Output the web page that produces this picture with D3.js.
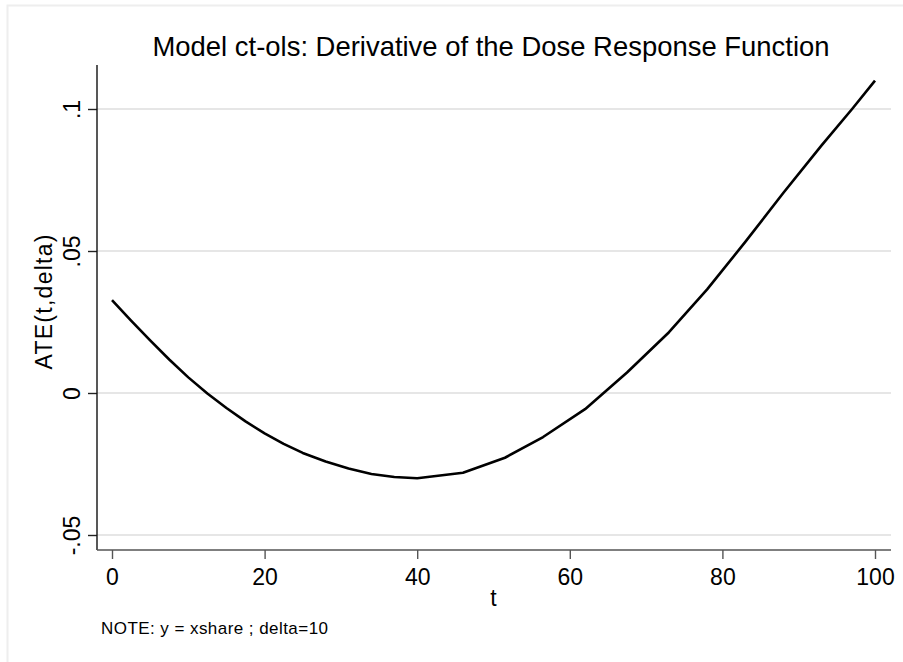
<!DOCTYPE html>
<html>
<head>
<meta charset="utf-8">
<script src="https://cdn.jsdelivr.net/npm/d3@7"></script>
<style>
  body { margin: 0; background: #fff; }
  svg { display: block; font-family: "Liberation Sans", Arial, sans-serif; }
</style>
</head>
<body>
<div id="chart"></div>
<script>
// t values and ATE(t,delta)
const tValues = [0, 2.5, 5, 7.5, 10, 12.5, 15, 17.5, 20, 22.5, 25, 28, 31, 34, 37, 40,
  46, 51.5, 56.5, 62, 67.5, 73, 78, 83, 88, 93, 97, 100];
const ateValues = [0.0327, 0.0255, 0.0185, 0.0118, 0.0055, -0.0002, -0.0053, -0.0100,
  -0.0142, -0.0179, -0.0211, -0.0241, -0.0266, -0.0285, -0.0296, -0.0300,
  -0.0281, -0.0228, -0.0155, -0.0057, 0.0072, 0.0214, 0.0365, 0.0532, 0.0705,
  0.0872, 0.1000, 0.1100];
const xTicks = [0, 20, 40, 60, 80, 100];
const yTicks = [-0.05, 0, 0.05, 0.1];
const yTickLabels = ["-.05", "0", ".05", ".1"];

const width = 903, height = 662;
const plot = { left: 97, right: 891, top: 65, bottom: 550 };

const svg = d3.select("#chart").append("svg")
  .attr("width", width)
  .attr("height", height);

// outer graph region border
svg.append("rect")
  .attr("x", 7.5).attr("y", 5.5)
  .attr("width", width + 10).attr("height", height + 10)
  .attr("fill", "none")
  .attr("stroke", "#eeeeee")
  .attr("stroke-width", 2);

const x = d3.scaleLinear().domain([0, 100]).range([112, 875]);
const y = d3.scaleLinear().domain([-0.05, 0.1]).range([535, 109]);

// gridlines
svg.append("g")
  .selectAll("line")
  .data(yTicks)
  .enter().append("line")
  .attr("x1", plot.left)
  .attr("x2", plot.right)
  .attr("y1", d => y(d))
  .attr("y2", d => y(d))
  .attr("stroke", "#e6e6e6")
  .attr("stroke-width", 2);

// y axis
const yAxis = svg.append("g")
  .attr("transform", "translate(" + plot.left + ",0)")
  .call(d3.axisLeft(y).tickValues(yTicks).tickSize(9).tickPadding(8)
    .tickFormat((d, i) => yTickLabels[i]));
yAxis.select(".domain").remove();
yAxis.append("line")
  .attr("x1", 0).attr("x2", 0)
  .attr("y1", plot.top).attr("y2", plot.bottom)
  .attr("stroke", "#111").attr("stroke-width", 1.4);
yAxis.selectAll(".tick line").attr("stroke", "#222").attr("stroke-width", 1.4);
yAxis.selectAll(".tick text")
  .attr("x", null).attr("dy", null)
  .attr("transform", "translate(-17,0) rotate(-90)")
  .attr("text-anchor", "middle")
  .style("font-size", "23px")
  .style("fill", "#000");

// x axis
const xAxis = svg.append("g")
  .attr("transform", "translate(0," + plot.bottom + ")")
  .call(d3.axisBottom(x).tickValues(xTicks).tickSize(9).tickPadding(10)
    .tickFormat(d3.format("d")));
xAxis.select(".domain").remove();
xAxis.append("line")
  .attr("x1", plot.left).attr("x2", plot.right)
  .attr("y1", 0).attr("y2", 0)
  .attr("stroke", "#555").attr("stroke-width", 1.6);
xAxis.selectAll(".tick line").attr("stroke", "#555").attr("stroke-width", 1.4);
xAxis.selectAll(".tick text")
  .style("font-size", "23px")
  .style("fill", "#000");

// curve
const line = d3.line()
  .x((d, i) => x(tValues[i]))
  .y(d => y(d));

svg.append("path")
  .datum(ateValues)
  .attr("d", line)
  .attr("fill", "none")
  .attr("stroke", "#000")
  .attr("stroke-width", 2.6)
  .attr("stroke-linejoin", "round");

// titles
svg.append("text")
  .attr("x", 491)
  .attr("y", 56)
  .attr("text-anchor", "middle")
  .attr("textLength", 677)
  .attr("lengthAdjust", "spacingAndGlyphs")
  .style("font-size", "28px")
  .text("Model ct-ols: Derivative of the Dose Response Function");

svg.append("text")
  .attr("x", x(50))
  .attr("y", 606)
  .attr("text-anchor", "middle")
  .style("font-size", "23px")
  .text("t");

svg.append("text")
  .attr("transform", "translate(52,302) rotate(-90)")
  .attr("text-anchor", "middle")
  .attr("textLength", 135)
  .attr("lengthAdjust", "spacing")
  .style("font-size", "23px")
  .text("ATE(t,delta)");

svg.append("text")
  .attr("x", 101)
  .attr("y", 634)
  .attr("textLength", 227)
  .attr("lengthAdjust", "spacing")
  .style("font-size", "17px")
  .text("NOTE: y = xshare ; delta=10");
</script>
</body>
</html>
